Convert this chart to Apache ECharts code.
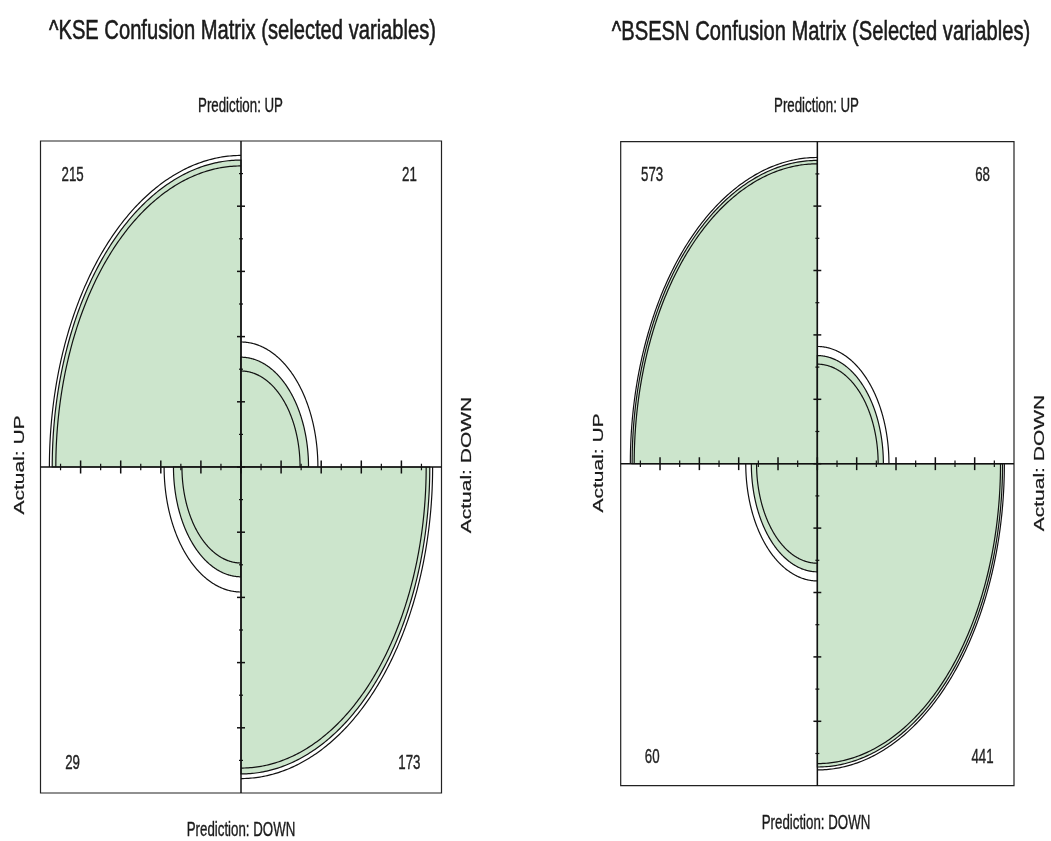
<!DOCTYPE html>
<html>
<head>
<meta charset="utf-8">
<script src="https://cdn.jsdelivr.net/npm/echarts@6/dist/echarts.min.js"></script>
<style>
  html, body { margin: 0; padding: 0; background: #fff; }
  #chart { width: 1051px; height: 841px; }
</style>
</head>
<body>
<div id="chart"></div>
<script>
// 2x2 confusion tables, quadrant order: top-left, top-right, bottom-left, bottom-right
// rows = Actual (UP, DOWN), columns = Prediction (UP, DOWN)
const quadrantNames = ['Actual UP / Pred UP', 'Actual DOWN / Pred UP', 'Actual UP / Pred DOWN', 'Actual DOWN / Pred DOWN'];
const kseCounts = [215, 21, 29, 173];
const bsesnCounts = [573, 68, 60, 441];

const panelTitles = [
  '^KSE Confusion Matrix (selected variables)',
  '^BSESN Confusion Matrix (Selected variables)'
];
const topLabel = 'Prediction: UP';
const bottomLabel = 'Prediction: DOWN';
const leftLabel = 'Actual: UP';
const rightLabel = 'Actual: DOWN';
const confLevel = 0.95;

const FILL = '#cce5cc';
const INK = '#111';
const FONT = '"Liberation Sans", Arial, sans-serif';

// Fourfold display: standardize to equal row/column margins via the odds ratio,
// plus confidence rings from the log odds ratio standard error.
function fourfold(c) {
  const [tl, tr, bl, br] = c;
  const or = (tl * br) / (tr * bl);
  const se = Math.sqrt(1 / tl + 1 / tr + 1 / bl + 1 / br);
  const z = 1.959963985; // qnorm(1 - (1 - confLevel) / 2)
  const std = theta => {
    const s = Math.sqrt(theta);
    const u = s / (1 + s);
    return [u, 1 - u, 1 - u, u];
  };
  return {
    fit: std(or),
    lo: std(or * Math.exp(-z * se)),
    hi: std(or * Math.exp(z * se))
  };
}

// angle span (degrees) of each quadrant and sign of its count label
const quadAngles = [[90, 180], [0, 90], [180, 270], [270, 360]];
const quadSign = [[-1, 1], [1, 1], [-1, -1], [1, -1]];

function arcPoints(api, r, a0, a1) {
  const pts = [];
  const n = 160;
  for (let i = 0; i <= n; i++) {
    const t = (a0 + (a1 - a0) * i / n) * Math.PI / 180;
    pts.push(api.coord([r * Math.cos(t), r * Math.sin(t)]));
  }
  return pts;
}

function quadrantRenderer(counts) {
  const ff = fourfold(counts);
  return function (params, api) {
    const q = api.value(0);
    const [a0, a1] = quadAngles[q];
    const r = Math.sqrt(ff.fit[q]);
    const rLo = Math.sqrt(ff.lo[q]);
    const rHi = Math.sqrt(ff.hi[q]);
    const center = api.coord([0, 0]);
    const arc = arcPoints(api, r, a0, a1);
    const sx = quadSign[q][0], sy = quadSign[q][1];
    const lp = api.coord([sx * 0.84, sy > 0 ? 0.895 : -0.91]);
    return {
      type: 'group',
      children: [
        { type: 'polygon', shape: { points: [center].concat(arc) },
          style: { fill: FILL, stroke: INK, lineWidth: 1.2 } },
        { type: 'polyline', shape: { points: arcPoints(api, rLo, a0, a1) },
          style: { fill: null, stroke: INK, lineWidth: 1.2 } },
        { type: 'polyline', shape: { points: arcPoints(api, rHi, a0, a1) },
          style: { fill: null, stroke: INK, lineWidth: 1.2 } },
        { type: 'text', x: lp[0], y: lp[1], scaleX: 0.633,
          style: { text: String(api.value(1)), fill: '#222', stroke: '#222', lineWidth: 0.4,
                   fontSize: 21, fontFamily: FONT,
                   align: 'center', verticalAlign: 'middle', textAlign: 'center', textVerticalAlign: 'middle' } }
      ]
    };
  };
}

// frame: box, centre axes and the tick marks along them
function frameRenderer(params, api) {
  const P = (x, y) => api.coord([x, y]);
  const line = (a, b, w) => ({ type: 'line', shape: { x1: a[0], y1: a[1], x2: b[0], y2: b[1] },
    style: { stroke: INK, lineWidth: w || 1 } });
  const ch = [];
  ch.push({ type: 'polygon', shape: { points: [P(-1, -1), P(1, -1), P(1, 1), P(-1, 1)] },
    style: { fill: null, stroke: '#222', lineWidth: 1.2 } });
  ch.push(line(P(-1, 0), P(1, 0), 1.5));
  ch.push(line(P(0, -1), P(0, 1), 1.5));
  for (let k = -4; k <= 4; k++) {
    const j = k * 0.2;
    ch.push(line(P(j, -0.02), P(j, 0.02), 1.5));
    ch.push(line(P(-0.02, j), P(0.02, j), 1.5));
  }
  for (let k = -4; k <= 5; k++) {
    const j = k * 0.2 - 0.1;
    ch.push(line(P(j, -0.01), P(j, 0.01), 1.2));
    ch.push(line(P(-0.01, j), P(0.01, j), 1.2));
  }
  return { type: 'group', children: ch };
}

function txt(text, x, y, size, sx, sy, rot, weight) {
  return {
    type: 'text', x: x, y: y, rotation: rot || 0, scaleX: sx, scaleY: sy, silent: true,
    style: { text: text, x: 0, y: 0, fill: '#1a1a1a', stroke: '#1a1a1a', lineWidth: weight || 0.4,
             fontSize: size, fontFamily: FONT,
             align: 'center', verticalAlign: 'middle', textAlign: 'center', textVerticalAlign: 'middle' }
  };
}

const grids = [
  { left: 40.5, top: 141, width: 401, height: 652 },
  { left: 620.7, top: 141.7, width: 393.3, height: 644 }
];
const tables = [kseCounts, bsesnCounts];

const option = {
  backgroundColor: '#fff',
  animation: false,
  grid: grids,
  xAxis: grids.map((g, i) => ({ type: 'value', gridIndex: i, min: -1, max: 1, show: false })),
  yAxis: grids.map((g, i) => ({ type: 'value', gridIndex: i, min: -1, max: 1, show: false })),
  series: [].concat(...tables.map((counts, i) => [
    {
      type: 'custom', name: panelTitles[i], xAxisIndex: i, yAxisIndex: i, z: 2,
      renderItem: quadrantRenderer(counts),
      encode: { x: -1, y: -1 },
      data: counts.map((v, q) => ({ name: quadrantNames[q], value: [q, v] }))
    },
    {
      type: 'custom', xAxisIndex: i, yAxisIndex: i, z: 3,
      renderItem: frameRenderer, encode: { x: -1, y: -1 },
      data: [[0, 0]]
    }
  ])),
  graphic: [
    txt(panelTitles[0], 242.5, 31.5, 28, 0.72, 1, 0, 0.6),
    txt(panelTitles[1], 821, 32.5, 28, 0.72, 1, 0, 0.6),
    txt(topLabel, 240.5, 106, 21, 0.633, 1),
    txt(topLabel, 816.5, 106, 21, 0.633, 1),
    txt(bottomLabel, 241, 830.5, 21, 0.633, 1),
    txt(bottomLabel, 816, 823.5, 21, 0.633, 1),
    txt(leftLabel, 20, 465, 21, 1, 0.7, Math.PI / 2, 0.3),
    txt(rightLabel, 467, 465, 21, 1, 0.7, Math.PI / 2, 0.3),
    txt(leftLabel, 599, 463, 21, 1, 0.7, Math.PI / 2, 0.3),
    txt(rightLabel, 1040, 463, 21, 1, 0.7, Math.PI / 2, 0.3)
  ]
};

const chart = echarts.init(document.getElementById('chart'), null, { renderer: 'canvas' });
chart.setOption(option);
</script>
</body>
</html>
